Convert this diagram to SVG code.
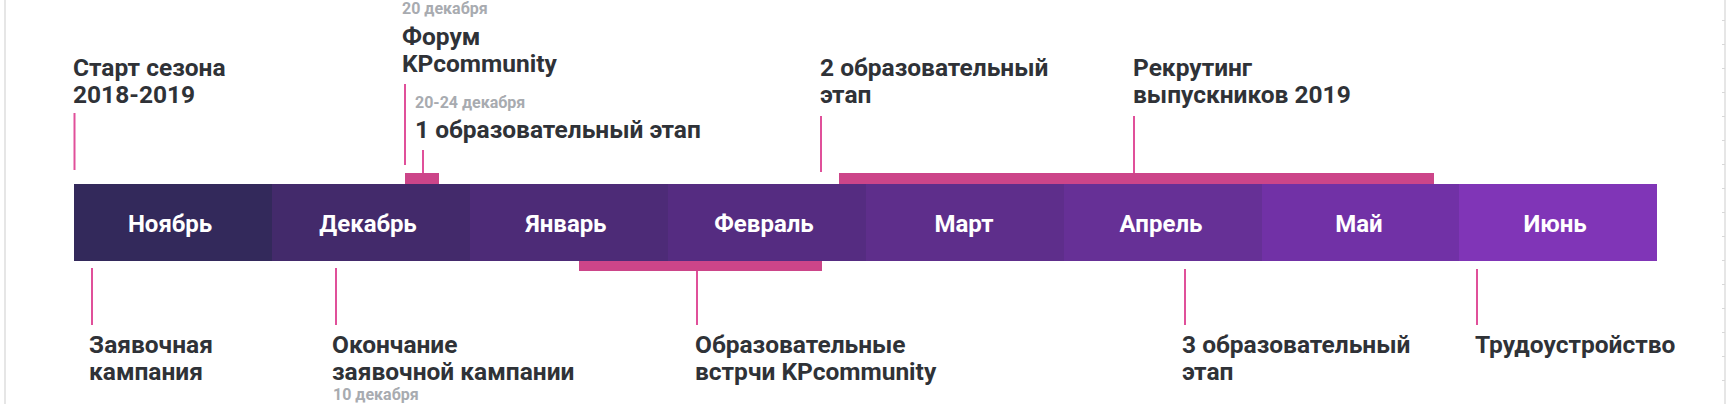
<svg xmlns="http://www.w3.org/2000/svg" width="1726" height="404" viewBox="0 0 1726 404">
<style>
.lbl{font-family:Roboto,"Noto Sans",sans-serif;font-weight:700;font-size:24.5px;fill:#2f3237}
.mon{font-family:Roboto,"Noto Sans",sans-serif;font-weight:700;font-size:24px;fill:#ffffff;text-anchor:middle}
.date{font-family:Roboto,"Noto Sans",sans-serif;font-weight:700;font-size:16px;fill:#a8abb0}
.conn{stroke:#e0509a;stroke-width:2;fill:none}
.range{fill:#cc4589}
.frame{stroke:#e6e6e6;stroke-width:2;fill:none}
</style>
<rect width="1726" height="404" fill="#ffffff"/>
<g id="frame">
<line class="frame" x1="5" y1="0" x2="5" y2="404"/>
<line class="frame" x1="1725" y1="0" x2="1725" y2="404"/>
<path stroke="#d8d8d8" stroke-width="1" d="M1722 20.5h3M1722 44.5h3M1722 68.5h3M1722 92.5h3M1722 116.5h3M1722 140.5h3M1722 164.5h3M1722 188.5h3M1722 212.5h3M1722 236.5h3M1722 260.5h3M1722 284.5h3M1722 308.5h3M1722 332.5h3M1722 356.5h3M1722 380.5h3"/>
</g>
<g id="months">
<g id="m-nov"><rect x="74" y="184" width="198" height="77" fill="#33295b"/><text class="mon" x="170" y="232">Ноябрь</text></g>
<g id="m-dec"><rect x="272" y="184" width="198" height="77" fill="#432a6b"/><text class="mon" x="368" y="232">Декабрь</text></g>
<g id="m-jan"><rect x="470" y="184" width="198" height="77" fill="#4d2b77"/><text class="mon" x="566" y="232">Январь</text></g>
<g id="m-feb"><rect x="668" y="184" width="198" height="77" fill="#552c81"/><text class="mon" x="764" y="232">Февраль</text></g>
<g id="m-mar"><rect x="866" y="184" width="198" height="77" fill="#5e2e8b"/><text class="mon" x="964" y="232">Март</text></g>
<g id="m-apr"><rect x="1064" y="184" width="198" height="77" fill="#663096"/><text class="mon" x="1161" y="232">Апрель</text></g>
<g id="m-may"><rect x="1262" y="184" width="197" height="77" fill="#7131a6"/><text class="mon" x="1359" y="232">Май</text></g>
<g id="m-jun"><rect x="1459" y="184" width="198" height="77" fill="#8035b7"/><text class="mon" x="1555" y="232">Июнь</text></g>
</g>
<g id="connectors">
<line class="conn" x1="74.5" y1="113" x2="74.5" y2="170"/>
<line class="conn" x1="405" y1="84" x2="405" y2="165"/>
<line class="conn" x1="423" y1="150" x2="423" y2="173"/>
<line class="conn" x1="821" y1="116" x2="821" y2="172"/>
<line class="conn" x1="1134" y1="116" x2="1134" y2="173"/>
<line class="conn" x1="92" y1="268" x2="92" y2="325"/>
<line class="conn" x1="336" y1="268" x2="336" y2="325"/>
<line class="conn" x1="697" y1="271" x2="697" y2="325"/>
<line class="conn" x1="1185" y1="269" x2="1185" y2="325"/>
<line class="conn" x1="1477" y1="269" x2="1477" y2="325"/>
</g>
<g id="ranges">
<rect class="range" x="405" y="173" width="34" height="11"/>
<rect class="range" x="839" y="173" width="595" height="11"/>
<rect class="range" x="579" y="261" width="243" height="10"/>
</g>
<g id="ev-start"><text class="lbl" x="73" y="76">Старт сезона</text><text class="lbl" x="73" y="103">2018-2019</text></g>
<g id="ev-forum"><text class="date" x="402" y="14">20 декабря</text><text class="lbl" x="402" y="45">Форум</text><text class="lbl" x="402" y="72">KPcommunity</text></g>
<g id="ev-stage1"><text class="date" x="415" y="108">20-24 декабря</text><text class="lbl" x="415" y="138">1 образовательный этап</text></g>
<g id="ev-stage2"><text class="lbl" x="820" y="76">2 образовательный</text><text class="lbl" x="820" y="103">этап</text></g>
<g id="ev-recruit"><text class="lbl" x="1133" y="76">Рекрутинг</text><text class="lbl" x="1133" y="103">выпускников 2019</text></g>
<g id="ev-apply"><text class="lbl" x="89" y="353">Заявочная</text><text class="lbl" x="89" y="380">кампания</text></g>
<g id="ev-apply-end"><text class="lbl" x="332" y="353">Окончание</text><text class="lbl" x="332" y="380">заявочной кампании</text><text class="date" x="333" y="400">10 декабря</text></g>
<g id="ev-meetings"><text class="lbl" x="695" y="353">Образовательные</text><text class="lbl" x="695" y="380">встрчи KPcommunity</text></g>
<g id="ev-stage3"><text class="lbl" x="1182" y="353">3 образовательный</text><text class="lbl" x="1182" y="380">этап</text></g>
<g id="ev-job"><text class="lbl" x="1475" y="353">Трудоустройство</text></g>
</svg>
